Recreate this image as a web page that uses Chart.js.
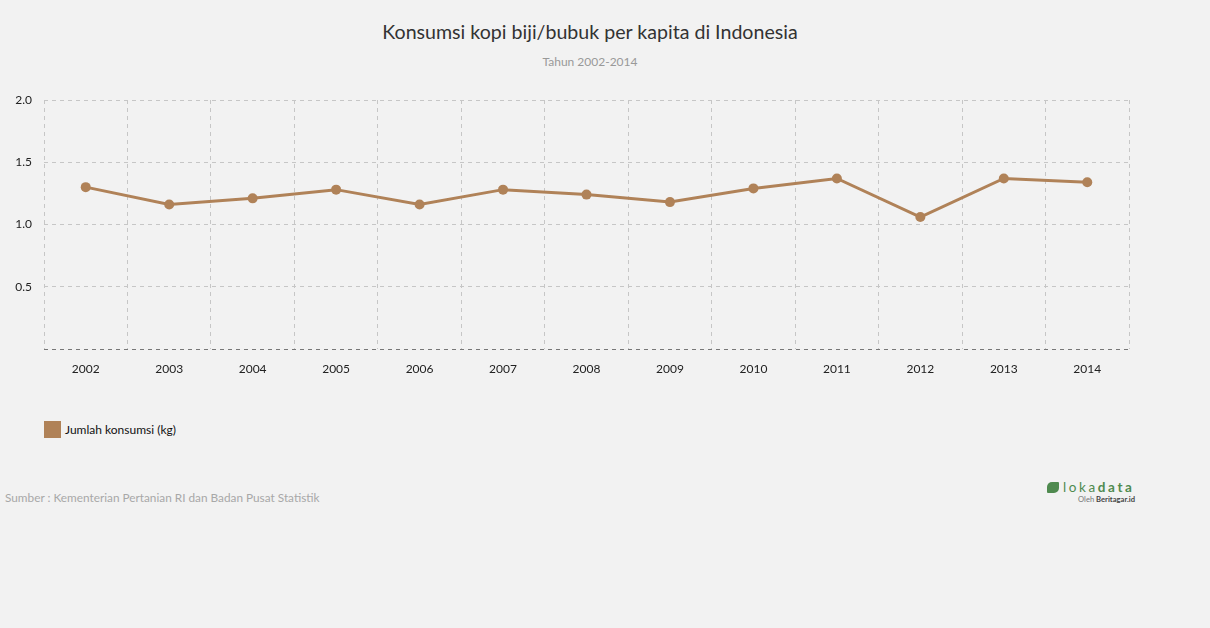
<!DOCTYPE html>
<html>
<head>
<meta charset="utf-8">
<script src="https://cdn.jsdelivr.net/npm/chart.js@4"></script>
<style>
  html,body{margin:0;padding:0;background:#f2f2f2;width:1210px;height:628px;overflow:hidden;font-family:Lato,"Open Sans",sans-serif;}
  #title{position:absolute;left:0;width:1180px;top:20px;text-align:center;font-size:19.6px;color:#333;}
  #subtitle{position:absolute;left:0;width:1180px;top:54px;text-align:center;font-size:12px;color:#999;}
  #wrap{position:absolute;left:0;top:80px;width:1140px;height:320px;}
  #legend{position:absolute;left:44px;top:421px;font-size:12px;color:#111;display:flex;align-items:center;}
  #legend .sw{width:17px;height:17px;background:#b08258;margin-right:4px;}
  #source{position:absolute;left:5px;top:490px;font-size:11.8px;color:#a8a8a8;}
  #logo{position:absolute;left:1046px;top:479px;width:90px;height:26px;}
  #logo .ic{position:absolute;left:1px;top:3px;width:12px;height:11px;background:#4f8a4f;border-radius:5px 1px 5px 1px;}
  #logo .tx{position:absolute;left:17px;top:0px;font-size:13.5px;color:#4f8a4f;letter-spacing:2.6px;}
  #logo .tx b{font-weight:700;}
  #logo .sub{position:absolute;right:1px;top:15px;font-size:7.6px;color:#777;}
  #logo .sub b{color:#444;}
</style>
</head>
<body>
<div id="title">Konsumsi kopi biji/bubuk per kapita di Indonesia</div>
<div id="subtitle">Tahun 2002-2014</div>
<div id="wrap"><canvas id="c"></canvas></div>
<div id="legend"><div class="sw"></div><span>Jumlah konsumsi (kg)</span></div>
<div id="source">Sumber : Kementerian Pertanian RI dan Badan Pusat Statistik</div>
<div id="logo"><div class="ic"></div><div class="tx">loka<b>data</b></div><div class="sub">Oleh <b>Beritagar.id</b></div></div>
<script>
const years = ["2002","2003","2004","2005","2006","2007","2008","2009","2010","2011","2012","2013","2014"];
const konsumsi = [1.30, 1.16, 1.21, 1.28, 1.16, 1.28, 1.24, 1.18, 1.29, 1.37, 1.06, 1.37, 1.34];
const yTicks = [0.5, 1.0, 1.5, 2.0];
const seriesLabel = "Jumlah konsumsi (kg)";

const lineColor = '#b08258';
new Chart(document.getElementById('c'), {
  type: 'line',
  data: {
    labels: years,
    datasets: [{
      label: seriesLabel,
      data: konsumsi,
      borderColor: lineColor,
      backgroundColor: lineColor,
      pointBackgroundColor: lineColor,
      pointBorderColor: lineColor,
      borderWidth: 3,
      pointRadius: 5,
      pointBorderWidth: 0,
      tension: 0,
      fill: false
    }]
  },
  options: {
    responsive: true,
    maintainAspectRatio: false,
    animation: false,
    layout: { padding: { top: 20, right: 11, left: 0, bottom: 0 } },
    plugins: { legend: { display: false }, tooltip: { enabled: false } },
    scales: {
      x: {
        offset: true,
        grid: { offset: true, color: '#c6c6c6', drawTicks: false, lineWidth: 1 },
        border: { display: false, dash: [4, 4] },
        ticks: { color: '#222', font: { family: 'Lato', size: 12 }, padding: 13, maxRotation: 0 },
        afterFit: s => { s.height = 51; }
      },
      y: {
        min: 0, max: 2,
        grid: {
          color: c => (c.tick && c.tick.value === 0) ? '#777' : '#c6c6c6',
          drawTicks: false, lineWidth: 1
        },
        border: { display: false, dash: [4, 4] },
        ticks: {
          stepSize: 0.5,
          color: '#222',
          font: { family: 'Lato', size: 12 },
          padding: 12,
          callback: v => yTicks.includes(v) ? v.toFixed(1) : ''
        },
        afterFit: s => { s.width = 44; }
      }
    }
  }
});
</script>
</body>
</html>
